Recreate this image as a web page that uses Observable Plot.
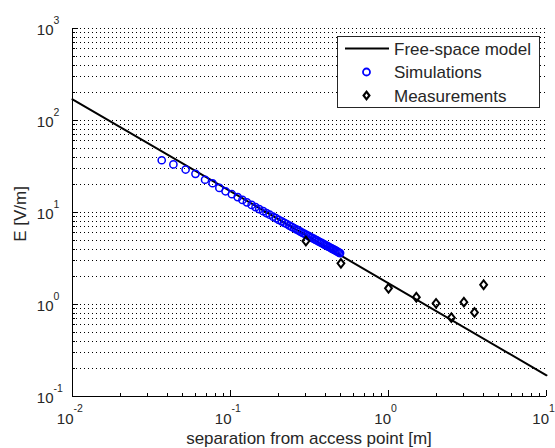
<!DOCTYPE html>
<html>
<head>
<meta charset="utf-8">
<script src="https://cdn.jsdelivr.net/npm/d3@7"></script>
<script src="https://cdn.jsdelivr.net/npm/@observablehq/plot@0.6"></script>
<style>
  html, body { margin: 0; padding: 0; background: #fff; }
  #chart svg { display: block; }
</style>
</head>
<body>
<div id="chart"></div>
<script>
// ---- data ----
const freeX = [0.01, 10];
const freeE = [170, 0.17];

const simX = [0.0367, 0.0435, 0.052, 0.060, 0.069, 0.077, 0.085, 0.093, 0.102, 0.111,
  0.119, 0.127, 0.136, 0.144, 0.152, 0.161, 0.169, 0.177, 0.186, 0.194,
  0.202, 0.211, 0.219, 0.227, 0.236, 0.244, 0.252, 0.261, 0.269, 0.277,
  0.286, 0.294, 0.302, 0.311, 0.319, 0.327, 0.336, 0.344, 0.352, 0.361,
  0.369, 0.377, 0.386, 0.394, 0.402, 0.411, 0.419, 0.427, 0.436, 0.444,
  0.452, 0.461, 0.469, 0.477, 0.486, 0.494];
const simE = [37.0, 33.3, 29.3, 26.3, 22.7, 20.8, 18.5, 17.0, 15.8, 14.7,
  13.7, 12.9, 12.1, 11.45, 10.9, 10.35, 9.86, 9.46, 9.0, 8.67,
  8.33, 8.02, 7.72, 7.49, 7.20, 6.97, 6.78, 6.55, 6.38, 6.20,
  6.0, 5.87, 5.71, 5.58, 5.44, 5.30, 5.19, 5.07, 4.97, 4.85,
  4.75, 4.67, 4.56, 4.47, 4.40, 4.30, 4.22, 4.16, 4.07, 4.00,
  3.95, 3.87, 3.81, 3.74, 3.67, 3.62];

const measX = [0.3, 0.5, 1, 1.5, 2, 2.5, 3, 3.5, 4];
const measE = [4.9, 2.8, 1.5, 1.2, 1.03, 0.72, 1.06, 0.82, 1.64];

const xTicks = [0.01, 0.1, 1, 10];
const xTickExp = ["-2", "-1", "0", "1"];
const xMinor = [0.02, 0.03, 0.04, 0.05, 0.06, 0.07, 0.08, 0.09,
  0.2, 0.3, 0.4, 0.5, 0.6, 0.7, 0.8, 0.9,
  2, 3, 4, 5, 6, 7, 8, 9];
const yTicks = [0.1, 1, 10, 100, 1000];
const yTickExp = ["-1", "0", "1", "2", "3"];
const yMinor = [0.2, 0.3, 0.4, 0.5, 0.6, 0.7, 0.8, 0.9,
  2, 3, 4, 5, 6, 7, 8, 9,
  20, 30, 40, 50, 60, 70, 80, 90,
  200, 300, 400, 500, 600, 700, 800, 900];
const yGrid = yTicks.concat(yMinor);

const seriesNames = ["Free-space model", "Simulations", "Measurements"];
const xLabel = "separation from access point [m]";
const yLabel = "E [V/m]";

// ---- tables ----
const sim = simX.map((x, i) => ({x, e: simE[i]}));
const meas = measX.map((x, i) => ({x, e: measE[i]}));
const free = freeX.map((x, i) => ({x, e: freeE[i]}));
const xT = xTicks.map((v, i) => ({v, exp: xTickExp[i]}));
const yT = yTicks.map((v, i) => ({v, exp: yTickExp[i]}));

const FONT = "'Liberation Sans', Arial, Helvetica, sans-serif";
const TXT = "#262626";

const diamond = {
  draw(context, size) {
    const s = Math.sqrt(size / Math.PI);
    context.moveTo(0, -s * 1.2);
    context.lineTo(s * 0.95, 0);
    context.lineTo(0, s * 1.2);
    context.lineTo(-s * 0.95, 0);
    context.closePath();
  }
};

const W = 555, H = 448;
const mL = 72, mR = 9, mT = 28, mB = 52;
const frameW = W - mL - mR, frameH = H - mT - mB;

const isNeg = d => d.exp.startsWith("-");

const plot = Plot.plot({
  width: W,
  height: H,
  marginLeft: mL,
  marginRight: mR,
  marginTop: mT,
  marginBottom: mB,
  style: {fontFamily: FONT, background: "#fff", color: TXT, overflow: "visible"},
  x: {type: "log", domain: [0.01, 10], axis: null},
  y: {type: "log", domain: [0.1, 1000], axis: null},
  marks: [
    // dotted horizontal grid
    Plot.ruleY(yGrid, {y: d => d, stroke: "#000", strokeWidth: 1, strokeDasharray: "1,3", shapeRendering: "crispEdges"}),
    // axes lines
    Plot.ruleX([0.01], {x: d => d, stroke: "#000", strokeWidth: 1, shapeRendering: "crispEdges"}),
    Plot.ruleY([0.1], {y: d => d, stroke: "#000", strokeWidth: 1, shapeRendering: "crispEdges"}),
    // x ticks (inward)
    Plot.ruleX(xTicks, {x: d => d, stroke: "#000", insetTop: frameH - 6, shapeRendering: "crispEdges"}),
    Plot.ruleX(xMinor, {x: d => d, stroke: "#000", insetTop: frameH - 3, shapeRendering: "crispEdges"}),
    // y ticks (inward)
    Plot.ruleY(yTicks, {y: d => d, stroke: "#000", insetRight: frameW - 6, shapeRendering: "crispEdges"}),
    Plot.ruleY(yMinor, {y: d => d, stroke: "#000", insetRight: frameW - 3, shapeRendering: "crispEdges"}),
    // data
    Plot.line(free, {x: "x", y: "e", stroke: "#000", strokeWidth: 2}),
    Plot.dot(sim, {x: "x", y: "e", r: 3.6, stroke: "#0000ff", strokeWidth: 1.5, fill: "none"}),
    Plot.dot(meas, {x: "x", y: "e", r: 3.6, symbol: diamond, stroke: "#000", strokeWidth: 2, fill: "none"}),
    // x tick labels: "10" + superscript
    Plot.text(xT.filter(isNeg), {x: "v", y: () => 0.1, text: () => "10", textAnchor: "end", lineAnchor: "bottom", dy: 27, dx: 1, fontSize: 15, fill: TXT}),
    Plot.text(xT.filter(isNeg), {x: "v", y: () => 0.1, text: "exp", textAnchor: "start", lineAnchor: "bottom", dy: 15, dx: 1, fontSize: 10.5, fill: TXT}),
    Plot.text(xT.filter(d => !isNeg(d)), {x: "v", y: () => 0.1, text: () => "10", textAnchor: "end", lineAnchor: "bottom", dy: 27, dx: 2.5, fontSize: 15, fill: TXT}),
    Plot.text(xT.filter(d => !isNeg(d)), {x: "v", y: () => 0.1, text: "exp", textAnchor: "start", lineAnchor: "bottom", dy: 15, dx: 2.5, fontSize: 10.5, fill: TXT}),
    // y tick labels
    Plot.text(yT, {x: () => 0.01, y: "v", text: () => "10", textAnchor: "end", lineAnchor: "bottom", dy: 6, dx: -19, fontSize: 15, fill: TXT}),
    Plot.text(yT, {x: () => 0.01, y: "v", text: "exp", textAnchor: "start", lineAnchor: "bottom", dy: -5, dx: -19, fontSize: 10.5, fill: TXT})
  ]
});

document.getElementById("chart").appendChild(plot);

// ---- axis titles and legend (decorations) ----
const svg = d3.select(plot);
svg.append("text")
  .attr("x", mL + frameW / 2).attr("y", 444)
  .attr("text-anchor", "middle")
  .attr("font-family", FONT).attr("font-size", 17).attr("fill", TXT)
  .text(xLabel);
svg.append("text")
  .attr("transform", "translate(26,214) rotate(-90)")
  .attr("text-anchor", "middle")
  .attr("font-family", FONT).attr("font-size", 17).attr("fill", TXT)
  .text(yLabel);

const lg = svg.append("g").attr("text-anchor", "start");
lg.append("rect").attr("x", 337.5).attr("y", 36.5).attr("width", 202).attr("height", 71)
  .attr("fill", "#fff").attr("stroke", "#262626").attr("stroke-width", 1);
lg.append("line").attr("x1", 345).attr("x2", 389).attr("y1", 48.5).attr("y2", 48.5)
  .attr("stroke", "#000").attr("stroke-width", 2);
lg.append("circle").attr("cx", 366.5).attr("cy", 72).attr("r", 3.5)
  .attr("fill", "none").attr("stroke", "#0000ff").attr("stroke-width", 1.8);
lg.append("path").attr("transform", "translate(366.5,95.5)")
  .attr("d", "M0,-3.8L2.9,0L0,3.8L-2.9,0Z")
  .attr("fill", "none").attr("stroke", "#000").attr("stroke-width", 2.2);
const ly = [55, 78, 101.5];
seriesNames.forEach((name, i) => {
  lg.append("text").attr("x", 394).attr("y", ly[i])
    .attr("text-anchor", "start")
    .attr("font-family", FONT).attr("font-size", 17).attr("fill", TXT)
    .text(name);
});
</script>
</body>
</html>
